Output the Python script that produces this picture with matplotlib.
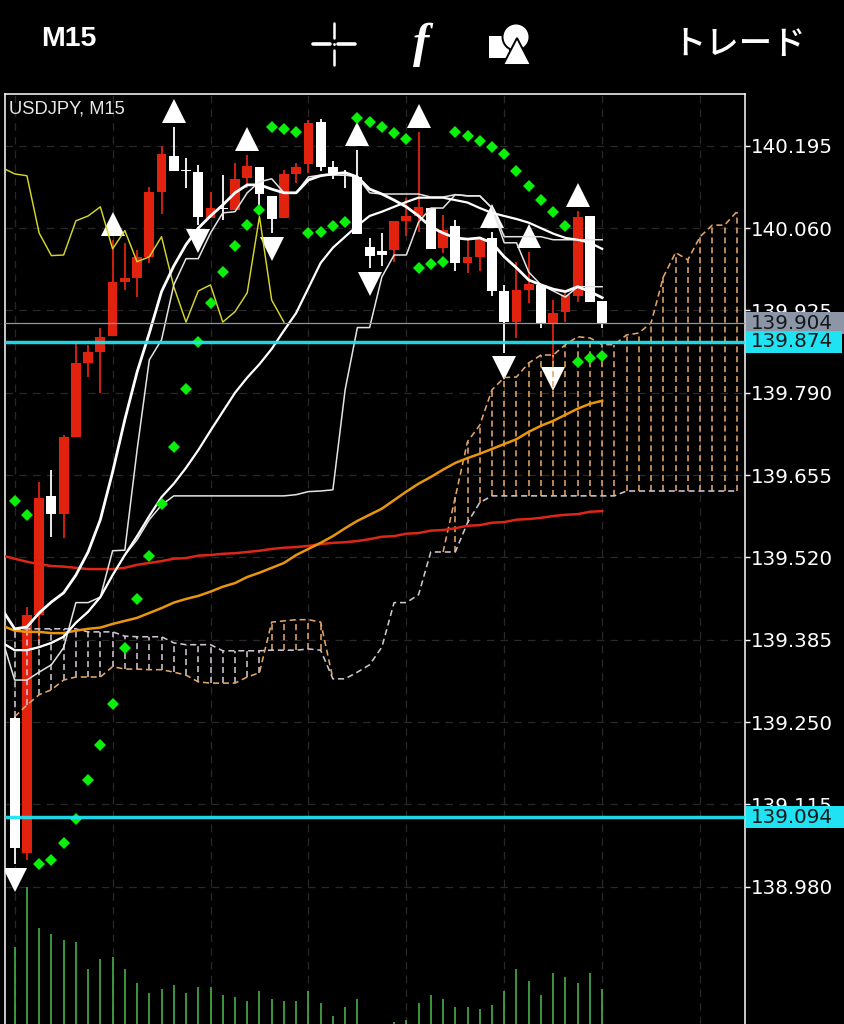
import numpy as np
import matplotlib
matplotlib.use("Agg")
import matplotlib.pyplot as plt
from matplotlib.patches import Rectangle, Circle, Polygon

# USDJPY M15 candles
opens = [139.257,139.035,139.426,139.621,139.591,139.718,139.839,139.857,139.883,139.972,
         139.979,140.013,140.120,140.179,140.156,140.152,140.077,140.093,140.090,140.142,
         140.161,140.113,140.077,140.149,140.165,140.234,140.161,140.147,140.144,140.029,
         140.023,140.024,140.072,140.080,140.093,140.028,140.064,140.003,140.013,140.044,
         139.957,139.906,139.959,139.967,139.905,139.923,139.949,140.080,139.941]
highs = [139.260,139.439,139.644,139.664,139.721,139.872,139.869,139.897,140.041,140.036,
         140.024,140.128,140.195,140.226,140.175,140.164,140.120,140.147,140.167,140.180,
         140.161,140.113,140.156,140.167,140.238,140.239,140.170,140.156,140.188,140.044,
         140.052,140.072,140.110,140.218,140.093,140.082,140.074,140.041,140.042,140.054,
         139.967,140.005,140.021,139.967,139.942,139.956,140.088,140.080,139.941]
lows = [139.017,139.024,139.380,139.554,139.552,139.718,139.816,139.790,139.883,139.959,
        139.947,140.003,140.083,140.154,140.126,140.065,140.077,140.074,140.090,140.126,
        140.098,140.052,140.077,140.134,140.151,140.154,140.141,140.126,140.051,139.995,
        139.998,140.005,140.047,140.054,140.026,140.020,139.990,139.987,139.990,139.949,
        139.856,139.880,139.938,139.897,139.839,139.906,139.939,139.939,139.897]
closes = [139.044,139.426,139.618,139.591,139.718,139.839,139.857,139.882,139.972,139.979,
          140.013,140.120,140.182,140.154,140.154,140.079,140.093,140.092,140.141,140.162,
          140.116,140.075,140.149,140.161,140.233,140.161,140.151,140.146,140.051,140.015,
          140.016,140.072,140.080,140.095,140.026,140.057,140.003,140.013,140.042,139.957,
          139.906,139.959,139.969,139.905,139.921,139.951,140.079,139.939,139.905]
volumes = [83,143,102,96,90,88,61,71,73,61,47,37,41,45,37,43,43,35,33,29,39,31,29,29,39,
           27,14,23,31,4,4,8,10,27,35,31,23,23,21,25,39,61,49,35,57,53,47,57,41]

# parabolic sar, one dot a bar
sar = [139.613,139.590,139.017,139.024,139.052,139.091,139.155,139.213,139.280,139.372,
       139.452,139.523,139.608,139.701,139.796,139.874,139.938,139.988,140.031,140.065,
       140.090,140.226,140.223,140.218,140.052,140.054,140.064,140.070,140.241,140.234,
       140.226,140.216,140.206,139.995,140.001,140.005,140.218,140.211,140.203,140.193,
       140.182,140.154,140.129,140.106,140.087,140.064,139.841,139.847,139.851]

# fractals
fractal_up = [8,13,19,28,33,39,42,46]
fractal_down = [0,15,21,29,40,44]

# these start one bar left of the first candle
white_fast = [139.434,139.403,139.406,139.429,139.447,139.462,139.491,139.529,139.582,139.660,
              139.746,139.824,139.888,139.956,139.998,140.033,140.060,140.080,140.098,140.118,
              140.131,140.131,140.124,140.118,140.118,140.139,140.146,140.149,140.151,140.144,
              140.124,140.116,140.106,140.095,140.080,140.062,140.052,140.044,140.042,140.044,
              140.036,140.013,139.995,139.975,139.967,139.960,139.956,139.964,139.956,139.946]
white_step = [139.385,139.319,139.319,139.332,139.344,139.372,139.446,139.446,139.455,139.531,
              139.532,139.696,139.844,139.877,139.967,140.010,140.010,140.052,140.085,140.087,
              140.118,140.136,140.141,140.118,140.118,140.144,140.147,140.147,140.147,140.144,
              140.118,140.116,140.116,140.116,140.116,140.111,140.111,140.115,140.113,140.113,
              140.093,140.036,140.036,139.988,139.967,139.957,139.947,139.964,139.964,139.964]
white_mid = [139.380,139.368,139.368,139.373,139.380,139.390,139.413,139.431,139.455,139.491,
             139.524,139.555,139.588,139.619,139.641,139.667,139.696,139.728,139.759,139.790,
             139.815,139.837,139.862,139.892,139.921,139.962,140.003,140.028,140.046,140.064,
             140.080,140.087,140.095,140.103,140.110,140.110,140.110,140.106,140.102,140.093,
             140.085,140.080,140.075,140.069,140.060,140.051,140.044,140.041,140.036,140.026]
white_slow = [139.380,139.368,139.368,139.373,139.380,139.390,139.413,139.431,139.455,139.491,
              139.524,139.549,139.582,139.606,139.621,139.621,139.621,139.621,139.621,139.621,
              139.621,139.621,139.621,139.621,139.623,139.628,139.629,139.631,139.795,139.897,
              139.897,139.980,140.016,140.016,140.070,140.093,140.093,140.115,140.113,140.113,
              140.093,140.046,140.046,140.046,140.046,140.041,140.041,140.041,140.041,140.041]
orange_ma = [139.408,139.400,139.398,139.398,139.396,139.396,139.400,139.403,139.405,139.411,
             139.416,139.421,139.429,139.437,139.446,139.452,139.457,139.464,139.472,139.478,
             139.488,139.495,139.503,139.511,139.524,139.534,139.544,139.555,139.568,139.580,
             139.590,139.600,139.614,139.628,139.641,139.652,139.664,139.675,139.683,139.690,
             139.698,139.706,139.714,139.726,139.736,139.744,139.754,139.764,139.772,139.777]
red_ma = [139.523,139.518,139.513,139.509,139.506,139.505,139.503,139.501,139.501,139.501,
          139.503,139.508,139.511,139.514,139.518,139.519,139.523,139.524,139.526,139.527,
          139.529,139.531,139.534,139.536,139.537,139.539,139.542,139.544,139.545,139.547,
          139.550,139.554,139.555,139.559,139.560,139.564,139.565,139.568,139.572,139.573,
          139.577,139.578,139.582,139.583,139.585,139.588,139.590,139.591,139.595,139.596]
yellow_line = [140.159,140.149,140.146,140.052,140.015,140.016,140.072,140.080,140.095,140.026,
               140.056,140.005,140.013,140.046,139.964,139.906,139.957,139.967,139.906,139.923,
               139.954,140.079,139.942,139.906]

# ichimoku cloud, runs on past the last candle
span_a = [139.259,139.278,139.295,139.303,139.319,139.324,139.324,139.324,139.341,139.337,
          139.337,139.336,139.336,139.332,139.327,139.316,139.314,139.314,139.314,139.324,
          139.331,139.414,139.416,139.418,139.418,139.414,139.321,139.321,139.332,139.344,
          139.373,139.446,139.446,139.459,139.529,139.529,139.619,139.710,139.737,139.795,
          139.815,139.816,139.839,139.852,139.852,139.869,139.882,139.880,139.869,139.869,
          139.885,139.888,139.905,139.980,140.020,140.008,140.046,140.065,140.065,140.087]
span_b = [139.401,139.403,139.403,139.403,139.403,139.403,139.398,139.398,139.398,139.391,
          139.390,139.390,139.390,139.380,139.377,139.377,139.377,139.367,139.367,139.367,
          139.367,139.368,139.368,139.368,139.370,139.368,139.321,139.321,139.332,139.344,
          139.373,139.446,139.446,139.459,139.529,139.529,139.529,139.577,139.610,139.621,
          139.621,139.621,139.621,139.621,139.621,139.621,139.621,139.621,139.621,139.621,
          139.629,139.629,139.629,139.629,139.629,139.629,139.629,139.629,139.629,139.629]

price_ticks = [138.980,139.115,139.250,139.385,139.520,139.655,139.790,139.925,140.060,140.195]
grid_bars = [0,8,16,24,32,40,48,56]
bid_price = 139.904
upper_level = 139.874
lower_level = 139.094

RED = "#e0220f"
PEACH = "#e2a568"
LAVENDER = "#cfc5d1"
CYAN = "#1fe3f2"
GREY = "#8c96a6"

fig = plt.figure(figsize=(8.44, 10.24), dpi=100, facecolor="black")
pos = [5 / 844, 0, 740 / 844, 930 / 1024]
ax = fig.add_axes(pos, facecolor="black")
ax.set_xlim(-0.79, 59.67)
ax.set_ylim(138.755, 140.280)

bars = np.arange(len(opens))
o, h, l, c = map(np.array, (opens, highs, lows, closes))
is_up = c >= o
colors = [RED if up else "white" for up in is_up]

# grid
ax.set_axisbelow(True)
ax.set_xticks(grid_bars)
ax.set_yticks(price_ticks)
ax.set_yticklabels(["%.3f" % p for p in price_ticks])
ax.grid(True, color="#282828", lw=0.9, ls=(0, (6, 5)))
ax.tick_params(axis="x", length=0, labelbottom=False)
ax.tick_params(axis="y", left=False, labelleft=False, right=True, labelright=True,
               length=3.6, width=1, color="white", labelcolor="white", labelsize=14.3, pad=0.5)
for side in ax.spines:
    ax.spines[side].set_color("white")
    ax.spines[side].set_linewidth(1.1)
ax.spines["bottom"].set_visible(False)

# candles
ax.vlines(bars, l, h, colors=colors, lw=1.3, zorder=3)
ax.bar(bars, np.maximum(np.abs(c - o), 0.0015), bottom=np.minimum(o, c), width=0.8,
       color=colors, linewidth=0, zorder=3)

# fractal arrows
up_idx = np.array(fractal_up)
down_idx = np.array(fractal_down)
ax.plot(up_idx, h[up_idx] + 0.026, "^", color="white", ms=17.3, mew=0, ls="none", zorder=4)
ax.plot(down_idx, l[down_idx] - 0.026, "v", color="white", ms=17.3, mew=0, ls="none", zorder=4)

# cloud
cloud_x = np.arange(len(span_a))
a = np.array(span_a)
b = np.array(span_b)
dash = (0, (3.8, 2.4))
above = a > b
below = a < b
ax.vlines(cloud_x[below], a[below], b[below], colors=LAVENDER, lw=1.15, ls=dash, zorder=5)
ax.vlines(cloud_x[above], b[above], a[above], colors=PEACH, lw=1.15, ls=dash, zorder=5)
# where the spans coincide only one is drawn, two dash patterns would look solid
same = (a == b)
same_inner = same & np.roll(same, 1) & np.roll(same, -1)
ax.plot(cloud_x, np.where(same_inner, np.nan, a), color=PEACH, lw=1.15, ls=dash, zorder=5)
ax.plot(cloud_x, b, color=LAVENDER, lw=1.15, ls=dash, zorder=5)

# indicator lines
line_x = np.arange(-1, 49)
ax.plot(np.arange(-1, 23), yellow_line, color="#d6d62a", lw=1.05, zorder=6)
ax.plot(line_x, red_ma, color="#dc2616", lw=1.8, zorder=6)
ax.plot(line_x, orange_ma, color="#ea960c", lw=1.8, zorder=6)
ax.plot(line_x, white_slow, color="#e4e4e4", lw=1.1, zorder=6)
ax.plot(line_x, white_step, color="#e4e4e4", lw=1.1, zorder=6)
ax.plot(line_x, white_mid, color="white", lw=1.6, zorder=6)
ax.plot(line_x, white_fast, color="white", lw=2.0, zorder=6)

# sar dots
ax.plot(bars, sar, "D", color="#0bf00b", ms=6.6, mew=0, ls="none", zorder=7)

# price levels
ax.axhline(bid_price, color=GREY, lw=0.9, zorder=8)
ax.axhline(upper_level, color=CYAN, lw=2.5, alpha=0.95, zorder=8)
ax.axhline(lower_level, color=CYAN, lw=2.5, alpha=0.95, zorder=8)

# price boxes on the scale
trans = ax.get_yaxis_transform()
box_h = 0.036
for level, face, right in ((bid_price, GREY, 1.134), (upper_level, CYAN, 1.131), (lower_level, CYAN, 1.134)):
    ax.add_patch(Rectangle((1.0014, level - box_h / 2), right - 1.0014, box_h, transform=trans,
                           facecolor=face, edgecolor="none", clip_on=False, zorder=10))
    ax.text(1.0081, level, "%.3f" % level, transform=trans, color="#14181c", fontsize=14.3,
            va="center", ha="left", clip_on=False, zorder=11)

ax.text(0.0055, 0.9835, "USDJPY, M15", transform=ax.transAxes, color="#e8e8e8", fontsize=13.2,
        family="Liberation Sans", va="center", ha="left", zorder=12)

# volume
ax_vol = fig.add_axes(pos)
ax_vol.patch.set_visible(False)
ax_vol.set_axis_off()
ax_vol.set_xlim(ax.get_xlim())
ax_vol.set_ylim(6, 936)
ax_vol.vlines(bars, 0, volumes, colors="#46b046", lw=1.2)

# toolbar above the chart
top = fig.add_axes([0, 0, 1, 1])
top.patch.set_visible(False)
top.set_axis_off()
top.set_xlim(0, 844)
top.set_ylim(1024, 0)
top.text(41, 39.5, "M15", color="white", fontsize=20.5, fontweight="bold",
         family="Liberation Sans", va="center", ha="left")
top.plot([313, 330], [44, 44], color="white", lw=2.6, solid_capstyle="round")
top.plot([338, 355], [44, 44], color="white", lw=2.6, solid_capstyle="round")
top.plot([334, 334], [23, 38], color="white", lw=1.8, solid_capstyle="round")
top.plot([334, 334], [50, 65], color="white", lw=1.8, solid_capstyle="round")
top.plot([334], [44], "o", color="white", ms=2, mew=0)
top.text(421, 45, "f", color="white", fontsize=35, style="italic", fontweight="bold",
         family="Liberation Serif", va="center", ha="center")
top.add_patch(Rectangle((489, 36), 20, 22, facecolor="white", edgecolor="none"))
top.add_patch(Circle((516, 37), 13.5, facecolor="white", edgecolor="black", lw=1.4))
top.add_patch(Polygon([[517, 38], [503, 65], [531, 65]], closed=True, facecolor="white",
                      edgecolor="black", lw=1.4))
top.text(739, 44, "トレード", color="white", fontsize=24, fontweight="medium",
         family=["Noto Sans CJK JP", "DejaVu Sans"], va="center", ha="center")

fig.savefig("out.png", dpi=100, facecolor="black")
